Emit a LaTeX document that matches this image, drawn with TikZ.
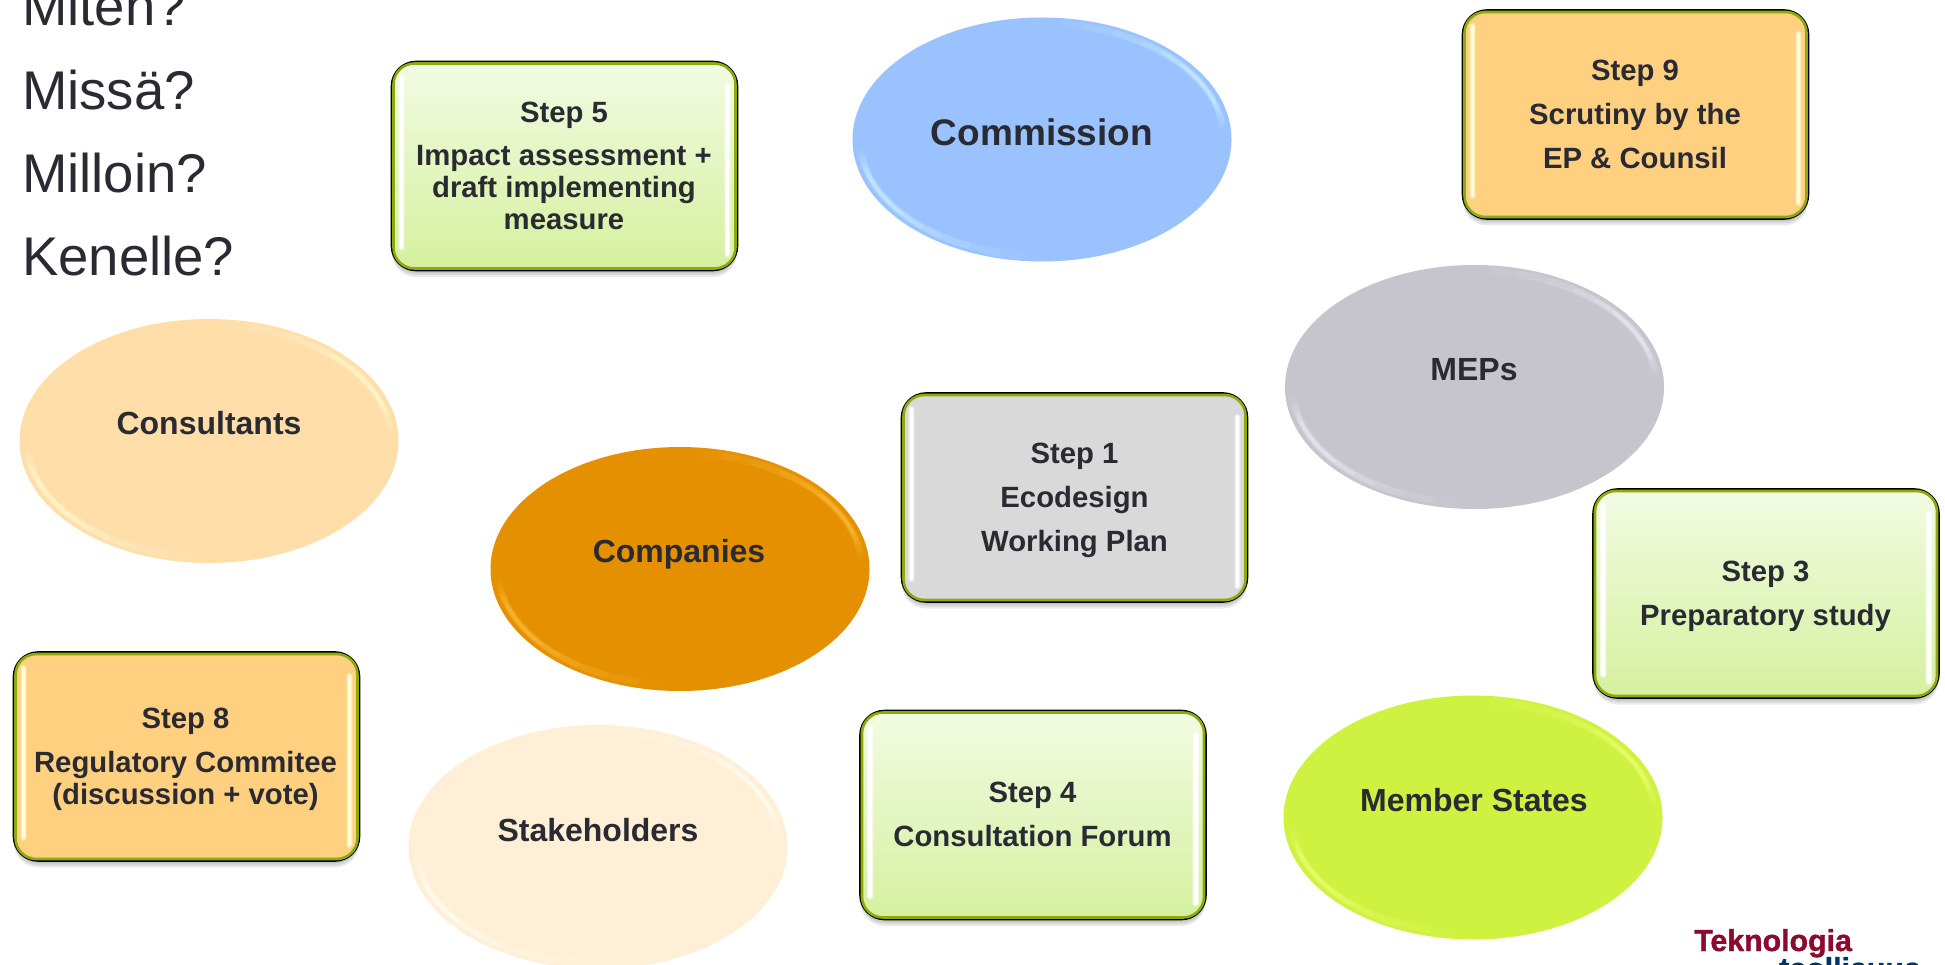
\documentclass[tikz,border=0pt]{standalone}
\usepackage{fontspec}
\setmainfont{Liberation Sans}
\newfontfamily\logofont[BoldFeatures={FakeBold=1.2}]{Liberation Sans}
\usetikzlibrary{shapes.geometric,calc}
\definecolor{ink}{HTML}{2A2A33}
\definecolor{rimgreen}{HTML}{8CAA0C}
\definecolor{logored}{HTML}{8B0A2E}
\definecolor{logoblue}{HTML}{003366}
\definecolor{cBlue}{HTML}{99C2FF}\definecolor{hBlue}{HTML}{CCF0FF}
\definecolor{cGrey}{HTML}{C6C5CE}\definecolor{hGrey}{HTML}{ECECF2}
\definecolor{cOrange}{HTML}{E49000}\definecolor{hOrange}{HTML}{FFBC3A}
\definecolor{cPeach}{HTML}{FFDEAA}\definecolor{hPeach}{HTML}{FFFCD2}
\definecolor{cCream}{HTML}{FFEFD6}\definecolor{hCream}{HTML}{FFFFF4}
\definecolor{cLime}{HTML}{CEF23F}\definecolor{hLime}{HTML}{EEFF72}
\definecolor{gTop}{HTML}{F2FBE3}\definecolor{gBot}{HTML}{D5F09E}
\definecolor{bGrey}{HTML}{D9D9D9}
\definecolor{bAmber}{HTML}{FFD080}\definecolor{hAmber}{HTML}{FFFFD8}
\tikzset{
  x=1pt,y=-1pt,
  stepshape/.style={rectangle,rounded corners=24,minimum width=345,minimum height=208,inner sep=0,draw=black,line width=2.6},
  softshadow/.style={rectangle,rounded corners=24,minimum width=345,minimum height=208,inner sep=0,fill=black,fill opacity=0.08},
  ovalshape/.style={ellipse,minimum width=379,minimum height=244,inner sep=0,draw=none},
  steptext/.style={font=\bfseries\fontsize{29.3}{32}\selectfont,text=ink,align=center,anchor=base,inner sep=0},
  ovaltext/.style={font=\bfseries\fontsize{32}{36}\selectfont,text=ink,anchor=base,inner sep=0},
  asktext/.style={font=\fontsize{54.5}{60}\selectfont,text=ink,anchor=base west,inner sep=0},
  logotext/.style={font=\logofont\bfseries\fontsize{30.3}{32}\selectfont,anchor=base,inner sep=0},
}
% name, cx, cy, top colour, bottom colour, highlight colour
\newcommand{\stepbox}[6]{
  \node[softshadow] at (#2,#3+3) {};
  \node[softshadow] at (#2,#3+5) {};
  \node[softshadow] at (#2,#3+7) {};
  \node[stepshape,top color=#4,bottom color=#5] (#1) at (#2,#3) {};
  \draw[rimgreen,line width=2.6,rounded corners=21]
    ([shift={(2.8,-2.8)}]#1.south west) rectangle ([shift={(-2.8,2.8)}]#1.north east);
  \foreach \o/\w in {0.25/7,0.5/5.5,1/3.5}{
    \draw[#6,opacity=\o,line width=\w,line cap=round]
      ([shift={(11,-24)}]#1.south west) -- ([shift={(11,17)}]#1.north west);
    \draw[#6,opacity=\o,line width=\w,line cap=round]
      ([shift={(-11,25)}]#1.north east) -- ([shift={(-11,-17)}]#1.south east);
  }
}
% name, cx, cy, fill, highlight
\newcommand{\ovalbody}[5]{
  \node[ovalshape,fill=#4] (#1) at (#2,#3) {};
  \foreach \a/\b/\o/\w in {-84/-6/0.07/8,-76/-8/0.1/7,-66/-10/0.14/6,-56/-13/0.2/5,-48/-15/0.28/4,-40/-18/0.4/3}{
    \draw[#5,opacity=\o,line width=\w,line cap=round]
      ([shift={(\a:182 and 116)}]#1.center) arc[start angle=\a,end angle=\b,x radius=182,y radius=116];
    \pgfmathsetmacro{\aa}{\a+180}\pgfmathsetmacro{\bb}{\b+180}
    \draw[#5,opacity=\o,line width=\w,line cap=round]
      ([shift={(\aa:182 and 116)}]#1.center) arc[start angle=\aa,end angle=\bb,x radius=182,y radius=116];
  }
}
\begin{document}
\begin{tikzpicture}
\useasboundingbox (0,0) rectangle (1945,965);
\clip (0,0) rectangle (1945,965);
\fill[white] (0,0) rectangle (1945,965);

\node[asktext] (q1) at (22,26) {Miten?};
\node[asktext] (q2) at (22,110) {Missä?};
\node[asktext] (q3) at (22,193) {Milloin?};
\node[asktext] (q4) at (22,276) {Kenelle?};

\ovalbody{commission}{1042}{139.5}{cBlue}{hBlue}
\ovalbody{meps}{1474.5}{387}{cGrey}{hGrey}
\ovalbody{companies}{680}{569}{cOrange}{hOrange}
\ovalbody{consultants}{209}{441}{cPeach}{hPeach}
\ovalbody{stakeholders}{598}{847}{cCream}{hCream}
\ovalbody{members}{1473}{817.5}{cLime}{hLime}

\node[ovaltext,font=\bfseries\fontsize{37}{40}\selectfont] (commission-t) at (1042,146) {Commission};
\node[ovaltext] (meps-t) at (1474,380) {MEPs};
\node[ovaltext] (companies-t) at (679,562) {Companies};
\node[ovaltext] (consultants-t) at (209,434) {Consultants};
\node[ovaltext] (stakeholders-t) at (598,841) {Stakeholders};
\node[ovaltext] (members-t) at (1474,811) {Member States};

\stepbox{step5}{564.5}{166}{gTop}{gBot}{white}
\stepbox{step1}{1074.5}{497.5}{bGrey}{bGrey}{white}
\stepbox{step9}{1635.5}{114.5}{bAmber}{bAmber}{hAmber}
\stepbox{step3}{1766}{593.5}{gTop}{gBot}{white}
\stepbox{step4}{1033}{815}{gTop}{gBot}{white}
\stepbox{step8}{186.5}{756.5}{bAmber}{bAmber}{hAmber}

\node[steptext] (step5-t) at (564,230) {Step 5\\[11pt]Impact assessment +\\draft implementing\\measure};
\node[steptext] (step1-t) at (1074.5,551) {Step 1\\[12pt]Ecodesign\\[12pt]Working Plan};
\node[steptext] (step9-t) at (1635,169) {Step 9\\[12pt]Scrutiny by the\\[12pt]EP \& Counsil};
\node[steptext] (step3-t) at (1765.5,625) {Step 3\\[12pt]Preparatory study};
\node[steptext] (step4-t) at (1032.5,846) {Step 4\\[12pt]Consultation Forum};
\node[steptext] (step8-t) at (185.5,804) {Step 8\\[12pt]Regulatory Commitee\\(discussion + vote)};

\node[logotext,text=logored] (logo1) at (1773,951) {Teknologia};
\node[logotext,text=logoblue] (logo2) at (1850,979) {teollisuus};
\end{tikzpicture}
\end{document}
